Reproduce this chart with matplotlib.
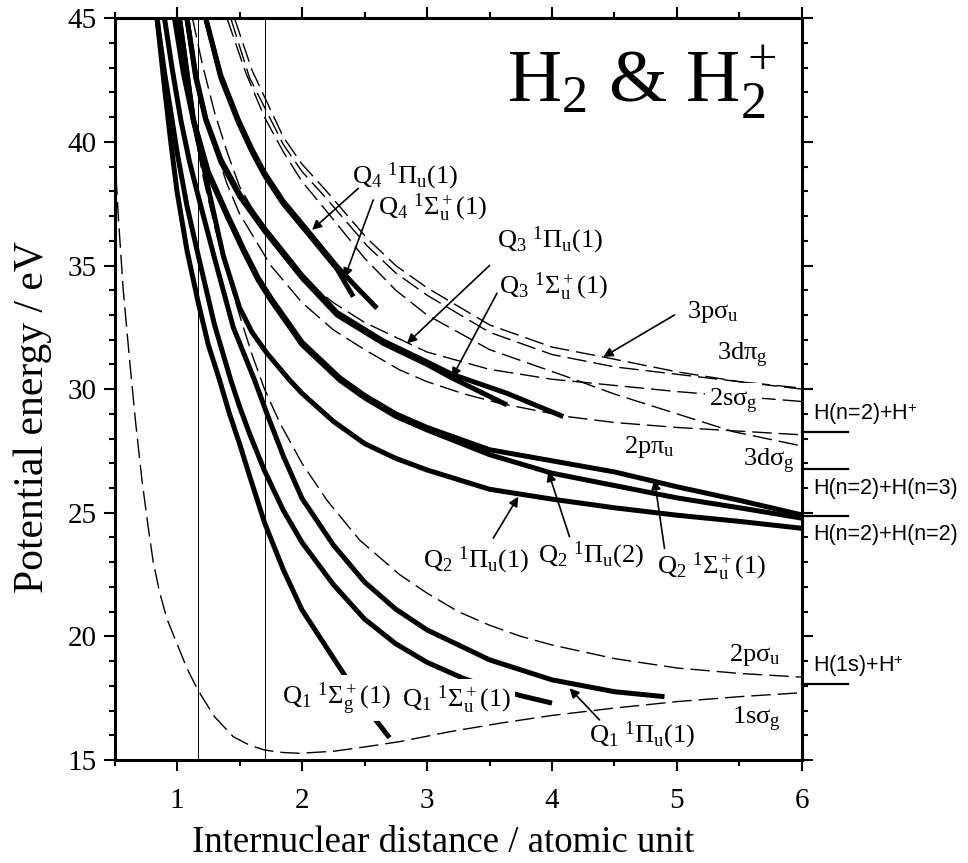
import matplotlib
matplotlib.use("Agg")
import matplotlib.pyplot as plt
from matplotlib.ticker import MultipleLocator

plt.rcParams["font.family"] = ["Liberation Serif", "DejaVu Serif"]
plt.rcParams["mathtext.fontset"] = "custom"
plt.rcParams["mathtext.rm"] = "Liberation Serif"
plt.rcParams["mathtext.it"] = "Liberation Serif:italic"
plt.rcParams["mathtext.sf"] = "Liberation Sans"

# --- H2+ potential curves (dashed) ---
r_1sg = [0.5, 0.53, 0.57, 0.62, 0.67, 0.72, 0.77, 0.81, 0.86, 0.92, 1.0, 1.08, 1.17, 1.3, 1.45,
         1.58, 1.7, 1.85, 1.98, 2.25, 2.52, 2.78, 3.18, 3.6, 4.0, 4.5, 5.0, 5.5, 6.0]
e_1sg = [39.7, 37.0, 34.0, 31.2, 28.6, 26.3, 24.4, 23.0, 21.8, 20.7, 19.7, 18.7, 17.8, 16.75, 15.94,
         15.6, 15.4, 15.3, 15.27, 15.35, 15.54, 15.74, 16.14, 16.5, 16.8, 17.1, 17.36, 17.56, 17.72]
r_2pu = [1.0, 1.1, 1.2, 1.3, 1.39, 1.5, 1.6, 1.7, 1.826, 2.0, 2.2, 2.46, 2.78, 3.0, 3.25, 3.5,
         3.75, 4.0, 4.5, 5.0, 5.5, 6.0]
e_2pu = [45.0, 41.6, 38.8, 36.6, 34.95, 33.0, 31.4, 30.0, 28.6, 27.0, 25.5, 23.9, 22.5, 21.75, 21.0, 20.45,
         20.0, 19.65, 19.1, 18.72, 18.5, 18.35]
r_2sg = [1.124, 1.2, 1.3, 1.4, 1.5, 1.75, 2.0, 2.25, 2.5, 3.0, 3.5, 4.0, 4.5, 5.0, 5.5, 6.0]
e_2sg = [45.0, 43.2, 41.2, 39.6, 38.2, 36.0, 34.5, 33.5, 32.7, 31.5, 30.8, 30.4, 30.15, 29.9, 29.7, 29.5]
r_2ppi = [1.064, 1.15, 1.25, 1.4, 1.5, 1.75, 2.0, 2.25, 2.5, 2.78, 3.0, 3.3, 3.58, 4.12, 4.5, 5.0, 5.5, 6.0]
e_2ppi = [45.0, 42.6, 40.6, 38.3, 37.1, 35.0, 33.5, 32.4, 31.6, 30.78, 30.3, 29.8, 29.43, 28.89, 28.65,
          28.45, 28.3, 28.15]
r_3dsg = [1.40, 1.55, 1.7, 1.85, 2.0, 2.18, 2.5, 2.75, 3.0, 3.5, 4.12, 4.5, 5.0, 5.45, 6.0]
e_3dsg = [45.0, 42.8, 41.0, 39.6, 38.4, 37.3, 35.3, 34.0, 33.0, 31.6, 30.5, 29.8, 29.0, 28.28, 27.7]
r_3psu = [1.46, 1.6, 1.85, 2.0, 2.18, 2.35, 2.52, 2.75, 3.0, 3.5, 4.0, 4.41, 5.0, 5.5, 6.0]
e_3psu = [45.0, 42.9, 40.2, 39.1, 38.1, 37.1, 36.1, 35.0, 34.1, 32.6, 31.7, 31.3, 30.7, 30.3, 30.0]
r_3dpg = [1.43, 1.58, 1.85, 2.0, 2.18, 2.35, 2.52, 2.75, 3.0, 3.5, 4.0, 4.5, 5.0, 5.5, 6.0]
e_3dpg = [45.0, 42.6, 39.9, 38.8, 37.8, 36.8, 35.8, 34.7, 33.8, 32.3, 31.4, 30.9, 30.6, 30.3, 30.04]

# --- H2 doubly excited states (solid) ---
r_q1sg = [0.84, 0.9, 0.95, 1.0, 1.08, 1.17, 1.25, 1.34, 1.42, 1.5, 1.58, 1.7, 1.85, 2.0, 2.28, 2.5, 2.7]
e_q1sg = [45.0, 42.2, 40.0, 38.0, 35.6, 33.5, 31.8, 30.37, 29.0, 27.8, 26.5, 24.6, 22.7, 21.07, 18.9, 17.2, 15.9]
r_q1su = [0.84, 0.9, 0.96, 1.0, 1.08, 1.17, 1.3, 1.43, 1.5, 1.58, 1.7, 1.85, 2.0, 2.25, 2.5, 2.75, 3.0,
          3.29, 3.5, 3.75, 4.0]
e_q1su = [45.0, 42.8, 40.9, 39.6, 37.4, 35.4, 32.6, 30.37, 29.3, 28.2, 26.7, 25.1, 23.8, 22.1, 20.7, 19.7,
          18.95, 18.3, 17.95, 17.6, 17.3]
r_q1pu = [0.9, 0.96, 1.03, 1.1, 1.17, 1.3, 1.45, 1.62, 1.72, 1.85, 2.0, 2.25, 2.5, 2.75, 3.0, 3.5, 4.0, 4.5, 4.9]
e_q1pu = [45.0, 43.0, 40.9, 39.2, 37.8, 35.3, 32.5, 30.37, 29.0, 27.3, 25.58, 23.7, 22.2, 21.1, 20.26, 19.05,
          18.24, 17.76, 17.56]
r_q2pu1 = [0.98, 1.05, 1.13, 1.2, 1.26, 1.37, 1.5, 1.6, 1.72, 1.9, 2.0, 2.25, 2.5, 2.75, 3.0, 3.5, 4.0, 4.5,
           5.0, 5.5, 6.0]
e_q2pu1 = [45.0, 42.8, 40.89, 39.3, 37.9, 35.4, 33.3, 32.3, 31.45, 30.37, 29.83, 28.7, 27.8, 27.2, 26.73,
           25.95, 25.55, 25.2, 24.9, 24.65, 24.37]
r_q2pu2 = [1.02, 1.13, 1.25, 1.4, 1.53, 1.65, 1.75, 2.0, 2.3, 2.5, 2.75, 3.0, 3.5, 4.0, 4.5, 5.0, 5.5, 6.0]
e_q2pu2 = [45.0, 40.89, 38.7, 37.0, 35.6, 34.4, 33.6, 31.8, 30.37, 29.65, 28.9, 28.35, 27.35, 26.6, 26.1,
           25.6, 25.2, 24.78]
r_q2su = [1.02, 1.13, 1.25, 1.4, 1.53, 1.65, 1.75, 2.0, 2.3, 2.5, 2.75, 3.0, 3.5, 4.0, 4.5, 5.0, 5.5, 6.0]
e_q2su = [45.0, 40.95, 38.8, 37.1, 35.7, 34.5, 33.7, 31.9, 30.47, 29.75, 29.0, 28.45, 27.55, 27.1, 26.65,
          26.05, 25.5, 24.91]
r_q3pu = [1.08, 1.15, 1.23, 1.35, 1.5, 1.7, 2.0, 2.28, 2.65, 3.0, 3.2, 3.64]
e_q3pu = [45.0, 42.6, 40.89, 39.2, 37.8, 36.4, 34.5, 33.0, 31.85, 31.0, 30.45, 29.36]
r_q3su = [1.08, 1.15, 1.23, 1.35, 1.5, 1.7, 2.0, 2.28, 2.65, 3.0, 3.2, 3.64, 4.09]
e_q3su = [45.0, 42.7, 40.95, 39.3, 37.9, 36.5, 34.6, 33.1, 31.95, 31.1, 30.6, 29.83, 28.89]
r_q4pu = [1.23, 1.35, 1.49, 1.6, 1.7, 1.85, 2.04, 2.28, 2.45, 2.6]
e_q4pu = [45.0, 42.7, 40.9, 39.7, 38.75, 37.6, 36.44, 34.96, 34.05, 33.27]
r_q4su = [1.23, 1.35, 1.49, 1.6, 1.7, 1.85, 2.04, 2.28, 2.41]
e_q4su = [45.0, 42.6, 40.8, 39.6, 38.65, 37.5, 36.34, 34.86, 33.74]

# dissociation limits (right margin)
limit_e = [28.28, 26.77, 24.88, 18.07]
limit_label_e = [28.96, 25.99, 24.1, 18.8]
limit_labels = [r"H(n=2)+H$^{\mathsf{+}}$", "H(n=2)+H(n=3)", "H(n=2)+H(n=2)",
                r"H(1s)+H$^{\mathsf{+}}$"]

# vertical marker lines
r_marks = [1.17, 1.70]

dashed = [(r_1sg, e_1sg), (r_2pu, e_2pu), (r_2sg, e_2sg), (r_2ppi, e_2ppi),
          (r_3dsg, e_3dsg), (r_3psu, e_3psu), (r_3dpg, e_3dpg)]
solid = [(r_q1sg, e_q1sg), (r_q1su, e_q1su), (r_q1pu, e_q1pu), (r_q2pu1, e_q2pu1),
         (r_q2pu2, e_q2pu2), (r_q2su, e_q2su), (r_q3pu, e_q3pu), (r_q3su, e_q3su),
         (r_q4pu, e_q4pu), (r_q4su, e_q4su)]

PI = r"$^1\mathrm{Π}_\mathrm{u}$"
SU = r"$^1\mathrm{Σ}_\mathrm{u}^+$"
SG = r"$^1\mathrm{Σ}_\mathrm{g}^+$"

# state labels: (text, x, y, boxed)
state_labels = [
    ("Q$_4$ " + PI + "(1)", 2.40, 38.6, False),
    ("Q$_4$ " + SU + "(1)", 2.61, 37.33, False),
    ("Q$_3$ " + PI + "(1)", 3.56, 36.0, False),
    ("Q$_3$ " + SU + "(1)", 3.58, 34.15, False),
    (r"3p$\mathrm{σ}_\mathrm{u}$", 5.08, 33.13, False),
    (r"3d$\mathrm{π}_\mathrm{g}$", 5.32, 31.38, False),
    (r"2s$\mathrm{σ}_\mathrm{g}$", 5.26, 29.5, True),
    (r"2p$\mathrm{π}_\mathrm{u}$", 4.58, 27.67, False),
    (r"3d$\mathrm{σ}_\mathrm{g}$", 5.53, 27.07, False),
    ("Q$_2$ " + PI + "(1)", 2.97, 23.09, False),
    ("Q$_2$ " + PI + "(2)", 3.89, 23.29, False),
    ("Q$_2$ " + SU + "(1)", 4.84, 22.82, False),
    (r"2p$\mathrm{σ}_\mathrm{u}$", 5.42, 19.25, False),
    (r"1s$\mathrm{σ}_\mathrm{g}$", 5.44, 16.62, False),
    ("Q$_1$ " + SG + "(1)", 1.84, 17.5, True),
    ("Q$_1$ " + SU + "(1)", 2.80, 17.43, True),
    ("Q$_1$ " + PI + "(1)", 4.30, 16.0, False),
]

# arrows: (tail x, tail y, tip x, tip y)
arrows = [
    (2.45, 38.12, 2.08, 36.44),
    (2.57, 37.65, 2.34, 34.5),
    (3.50, 35.0, 2.84, 31.85),
    (3.56, 33.88, 3.20, 30.47),
    (4.98, 33.0, 4.41, 31.3),
    (3.53, 23.97, 3.73, 25.65),
    (4.14, 24.03, 3.97, 26.66),
    (4.90, 23.56, 4.82, 26.33),
    (4.38, 16.62, 4.14, 17.9),
]

fig = plt.figure(figsize=(9.68, 8.63), dpi=100)
ax = fig.add_axes([0.1183, 0.1194, 0.7102, 0.8594])

for xv in r_marks:
    ax.axvline(xv, color="k", lw=0.7)

for r, e in dashed:
    line, = ax.plot(r, e, color="k", lw=1.0)
    line.set_dashes([14, 5])

for r, e in solid:
    ax.plot(r, e, color="k", lw=3.6, solid_capstyle="butt", solid_joinstyle="round")

for txt, x, y, boxed in state_labels:
    kw = {}
    if boxed:
        kw["bbox"] = dict(facecolor="white", edgecolor="none", pad=3)
    ax.text(x, y, txt, fontsize=19, ha="left", va="center", **kw)

for x0, y0, x1, y1 in arrows:
    ax.annotate("", xy=(x1, y1), xytext=(x0, y0),
                arrowprops=dict(arrowstyle="-|>", color="k", lw=1.2,
                                mutation_scale=14, shrinkA=0, shrinkB=0))

for e, ey, lab in zip(limit_e, limit_label_e, limit_labels):
    ax.plot([6.0, 6.37], [e, e], color="k", lw=1.6, clip_on=False)
    ax.text(6.088, ey, lab, fontsize=15.5, fontfamily="Liberation Sans",
            ha="left", va="center", clip_on=False)

ax.text(3.64, 41.6, "H$_2$ & H$_2^+$", fontsize=54, ha="left", va="baseline")

ax.set_xlim(0.5, 6)
ax.set_ylim(15, 45)
ax.xaxis.set_major_locator(MultipleLocator(1))
ax.xaxis.set_minor_locator(MultipleLocator(0.5))
ax.yaxis.set_major_locator(MultipleLocator(5))
ax.yaxis.set_minor_locator(MultipleLocator(1))
ax.tick_params(which="both", direction="out", top=True, right=True, width=1.5)
ax.tick_params(which="major", length=8, labelsize=21)
ax.tick_params(which="minor", length=4)
ax.tick_params(axis="x", which="major", pad=12)
ax.tick_params(axis="y", which="major", pad=5)
for s in ax.spines.values():
    s.set_linewidth(2.2)

fig.text(443.5 / 968, 1 - 852 / 863, "Internuclear distance / atomic unit",
         fontsize=26.5, ha="center", va="baseline")
fig.text(33 / 968, 1 - 417 / 863, "Potential energy / eV",
         fontsize=30, rotation=90, ha="center", va="center")

fig.savefig("out.png", dpi=100)
